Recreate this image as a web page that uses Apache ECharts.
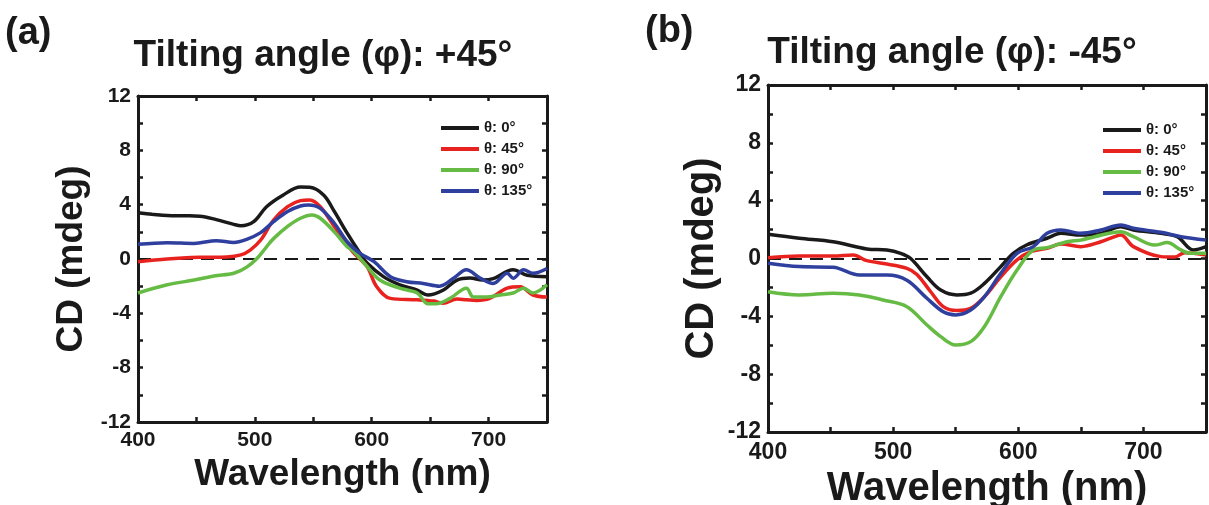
<!DOCTYPE html>
<html>
<head>
<meta charset="utf-8">
<script src="https://cdn.jsdelivr.net/npm/echarts@6/dist/echarts.min.js"></script>
<style>
html,body{margin:0;padding:0;background:#fff;}
#chart{width:1209px;height:505px;}
</style>
</head>
<body>
<div id="chart"></div>
<script>
// ---------- data ----------
const seriesNames = ['θ: 0°', 'θ: 45°', 'θ: 90°', 'θ: 135°'];
const seriesColors = ['#1a1a1a', '#e8221e', '#66bb44', '#2e3f9e'];
const panelTitles = ['Tilting angle (φ): +45°', 'Tilting angle (φ): -45°'];
const panelLetters = ['(a)', '(b)'];
const xName = 'Wavelength (nm)';
const yName = 'CD (mdeg)';
const xTicks = [400, 500, 600, 700];
const yTicks = [-12, -8, -4, 0, 4, 8, 12];

// panel (a): tilting +45°
const a_theta0 = [[400,3.4],[412,3.3],[425,3.2],[440,3.18],[453,3.15],[467,2.9],[482,2.55],[488,2.45],[499,2.75],[510,3.85],[524,4.7],[539,5.3],[547,5.28],[559,4.7],[568,3.5],[579,1.9],[590,0.42],[596,-0.3],[610,-1.3],[624,-1.9],[639,-2.3],[648,-2.65],[661,-2.3],[673,-1.55],[684,-1.4],[695,-1.55],[704,-1.45],[721,-0.8],[733,-1.2],[750,-1.3]];
const a_theta45 = [[400,-0.2],[425,0],[453,0.12],[476,0.15],[488,0.3],[496,0.66],[505,1.4],[516,2.87],[528,3.85],[539,4.3],[547,4.35],[556,3.85],[568,2.4],[584,0.5],[596,-0.55],[604,-2.0],[616,-2.9],[639,-3.0],[653,-3.1],[661,-3.25],[673,-2.95],[681,-3.0],[690,-3.05],[701,-2.9],[716,-2.15],[727,-2.05],[738,-2.65],[750,-2.8]];
const a_theta90 = [[400,-2.5],[425,-1.9],[448,-1.55],[465,-1.25],[482,-1.05],[493,-0.6],[502,0.05],[510,0.9],[516,1.5],[528,2.4],[539,3.0],[549,3.24],[556,3.0],[568,2.0],[579,0.9],[584,0.6],[596,-0.55],[607,-1.55],[624,-2.15],[639,-2.5],[648,-3.3],[655,-3.3],[667,-2.9],[681,-2.15],[687,-2.8],[698,-2.8],[710,-2.65],[721,-2.5],[730,-2.15],[738,-2.5],[750,-1.9]];
const a_theta135 = [[400,1.08],[425,1.2],[448,1.15],[467,1.35],[482,1.22],[493,1.45],[505,1.94],[516,2.75],[528,3.5],[539,3.9],[546,3.97],[556,3.73],[568,2.63],[579,1.27],[590,0.42],[602,-0.2],[616,-1.3],[630,-1.67],[644,-1.8],[658,-2.0],[670,-1.42],[681,-0.8],[693,-1.42],[704,-1.8],[716,-1.05],[721,-1.42],[730,-0.8],[738,-1.05],[750,-0.7]];

// panel (b): tilting -45°
const b_theta0 = [[400,1.67],[425,1.4],[452,1.16],[479,0.66],[495,0.59],[506,0.36],[514,0.0],[527,-1.26],[538,-2.18],[551,-2.52],[562,-2.4],[573,-1.72],[586,-0.56],[596,0.36],[607,0.95],[623,1.4],[634,1.74],[650,1.62],[666,1.74],[682,2.2],[692,1.97],[714,1.74],[727,1.51],[740,0.59],[750,0.82]];
const b_theta45 = [[400,0.05],[425,0.17],[452,0.17],[468,0.24],[479,-0.15],[495,-0.38],[511,-0.68],[519,-1.1],[530,-2.3],[540,-3.33],[551,-3.6],[562,-3.45],[573,-2.64],[586,-1.26],[599,-0.1],[610,0.47],[623,0.7],[634,1.0],[650,0.82],[666,1.16],[677,1.51],[682,1.62],[692,0.82],[714,0.13],[725,0.1],[733,0.4],[750,0.24]];
const b_theta90 = [[400,-2.3],[425,-2.52],[452,-2.4],[473,-2.52],[492,-2.87],[511,-3.33],[527,-4.6],[538,-5.4],[550,-5.98],[562,-5.75],[573,-4.7],[586,-2.64],[599,-0.8],[612,0.59],[623,0.75],[639,1.16],[650,1.27],[661,1.51],[682,1.85],[692,1.51],[709,0.93],[719,1.1],[730,0.59],[738,0.36],[750,0.36]];
const b_theta135 = [[400,-0.33],[425,-0.56],[452,-0.6],[473,-1.14],[495,-1.14],[511,-1.5],[527,-2.75],[540,-3.68],[550,-3.9],[562,-3.56],[573,-2.64],[586,-1.03],[599,0.36],[612,0.82],[623,1.74],[634,1.97],[650,1.74],[666,1.97],[682,2.32],[692,2.09],[714,1.81],[730,1.51],[750,1.28]];

const panelData = [
  [a_theta0, a_theta45, a_theta90, a_theta135],
  [b_theta0, b_theta45, b_theta90, b_theta135]
];

// ---------- chart ----------
const FONT = '"Liberation Sans", Arial, Helvetica, sans-serif';
const INK = '#1a1a1a';
const chart = echarts.init(document.getElementById('chart'), null, {renderer: 'canvas'});

const panels = [
  {grid: {left: 138, top: 96, width: 409, height: 326}, tickFont: 21, nameFont: 37, xGap: 27, yGap: 48, xMargin: 8,
   legend: {left: 436, top: 115}, title: {x: 323, y: 56}, letter: {x: 5, y: 34}},
  {grid: {left: 768, top: 85, width: 438, height: 347}, tickFont: 23, nameFont: 40, xGap: 27, yGap: 46, xMargin: 9,
   legend: {left: 1098, top: 117}, title: {x: 952, y: 53}, letter: {x: 645, y: 32}}
];

const axisLine = {show: true, onZero: false, lineStyle: {color: INK, width: 3}};
const axisTick = {show: true, inside: true, length: 5, lineStyle: {color: INK, width: 2.5}};

const xAxes = [], yAxes = [], series = [], legends = [], graphics = [];
panels.forEach((p, gi) => {
  const labelStyle = {fontSize: p.tickFont, fontWeight: 'bold', color: INK, fontFamily: FONT};
  const nameStyle = {fontSize: p.nameFont, fontWeight: 'bold', color: INK, fontFamily: FONT};
  const xBase = {type: 'value', gridIndex: gi, min: 400, max: 750, interval: 50,
    axisLine, axisTick, splitLine: {show: false}};
  const yBase = {type: 'value', gridIndex: gi, min: -12, max: 12, interval: 2,
    axisLine, axisTick, splitLine: {show: false}};
  xAxes.push(Object.assign({}, xBase, {position: 'bottom',
    axisLabel: Object.assign({margin: p.xMargin, formatter: v => xTicks.includes(v) ? String(v) : ''}, labelStyle),
    name: xName, nameLocation: 'middle', nameGap: p.xGap, nameTextStyle: nameStyle}));
  xAxes.push(Object.assign({}, xBase, {position: 'top', axisLabel: {show: false}}));
  yAxes.push(Object.assign({}, yBase, {position: 'left',
    axisLabel: Object.assign({margin: 7, formatter: v => yTicks.includes(v) ? String(v) : ''}, labelStyle),
    name: yName, nameLocation: 'middle', nameGap: p.yGap, nameRotate: 90, nameTextStyle: nameStyle}));
  yAxes.push(Object.assign({}, yBase, {position: 'right', axisLabel: {show: false}}));

  panelData[gi].forEach((d, si) => {
    const s = {
      type: 'line', name: seriesNames[si], xAxisIndex: gi * 2, yAxisIndex: gi * 2,
      data: d, showSymbol: false, symbol: 'none', smooth: 0.35,
      lineStyle: {color: seriesColors[si], width: 3.5}, itemStyle: {color: seriesColors[si]},
      z: 3 + si
    };
    if (si === 0) {
      s.markLine = {silent: true, symbol: 'none', label: {show: false},
        lineStyle: {type: [13, 8], color: INK, width: 2.2}, data: [{yAxis: 0}], z: 2};
    }
    series.push(s);
  });

  legends.push({
    orient: 'vertical', left: p.legend.left, top: p.legend.top,
    data: seriesNames, icon: 'rect', itemWidth: 38, itemHeight: 4, itemGap: 5,
    selectedMode: false,
    textStyle: {fontSize: 15, fontWeight: 'bold', color: INK, fontFamily: FONT, lineHeight: 16}
  });

  graphics.push({type: 'text', x: p.title.x, y: p.title.y,
    style: {text: panelTitles[gi], font: 'bold 37px ' + FONT, fill: INK,
      align: 'center', verticalAlign: 'middle', textAlign: 'center', textVerticalAlign: 'middle'}});
  graphics.push({type: 'text', x: p.letter.x, y: p.letter.y,
    style: {text: panelLetters[gi], font: 'bold 38px ' + FONT, fill: INK,
      align: 'left', verticalAlign: 'middle', textAlign: 'left', textVerticalAlign: 'middle'}});
});

chart.setOption({
  animation: false,
  backgroundColor: '#ffffff',
  grid: panels.map(p => Object.assign({outerBoundsMode: 'none', containLabel: false}, p.grid)),
  xAxis: xAxes,
  yAxis: yAxes,
  legend: legends,
  series: series,
  graphic: graphics
});
</script>
</body>
</html>
